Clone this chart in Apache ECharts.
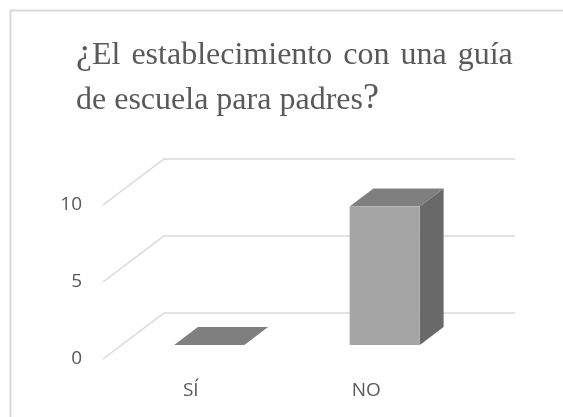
<!DOCTYPE html>
<html><head><meta charset="utf-8">
<style>html,body{margin:0;padding:0;background:#fff}#c{width:563px;height:417px}</style>
<script src="https://cdn.jsdelivr.net/npm/echarts@6/dist/echarts.min.js"></script></head>
<body><div id="c"></div>
<script>
const categories = ['SÍ', 'NO'];
const values = [0, 9];
const gridValues = [0, 5, 10];
const titleLine1 = '{q|¿}{t|El}{s| }{t|establecimiento}{s| }{t|con}{s| }{t|una}{s| }{t|guía}';
const titleLine2 = '{t|de}{u| }{t|escuela}{u| }{t|para}{u| }{t|padres}{q|?}';

const DEPTH_X = 61, DEPTH_Y = -46;      // full floor depth
const NEAR = 0.303, FAR = 0.693;        // bar's position within the depth
const chart = echarts.init(document.getElementById('c'), null, {renderer: 'canvas'});
const ink = '#595959';
const richTitle = {
  t: {fontFamily: 'Liberation Serif', fontSize: 32, fontWeight: 'normal', color: ink, verticalAlign: 'bottom'},
  s: {fontFamily: 'Liberation Serif', fontSize: 44, fontWeight: 'normal', color: ink, verticalAlign: 'bottom'},
  u: {fontFamily: 'Liberation Serif', fontSize: 32, fontWeight: 'normal', color: ink, verticalAlign: 'bottom'},
  q: {fontFamily: 'Liberation Serif', fontSize: 36, fontWeight: 'normal', color: ink, verticalAlign: 'bottom'}
};
chart.setOption({
  animation: false,
  backgroundColor: '#fff',
  graphic: [{type: 'rect', silent: true, z: -1,
    shape: {x: 10.5, y: 10.5, width: 640, height: 500},
    style: {fill: 'none', stroke: '#d9d9d9', lineWidth: 2}}],
  title: [
    {left: 76, top: 28, padding: 0, text: titleLine1, textStyle: {fontWeight: 'normal', rich: richTitle}},
    {left: 76, top: 81, padding: 0, text: titleLine2, textStyle: {fontWeight: 'normal', rich: richTitle}}
  ],
  grid: {left: 103, right: 109, top: 205, bottom: 58, containLabel: false},
  xAxis: {type: 'category', data: categories,
    axisLine: {show: false}, axisTick: {show: false}, splitLine: {show: false},
    axisLabel: {color: ink, fontFamily: 'Open Sans', fontSize: 19, margin: 22}},
  yAxis: {type: 'value', min: 0, max: 10, interval: 5,
    axisLine: {show: false}, axisTick: {show: false}, splitLine: {show: false},
    axisLabel: {color: ink, fontFamily: 'Open Sans', fontSize: 19, margin: 21}},
  series: [
    {type: 'custom', z: 1, data: gridValues.map(v => [0, v]),
      encode: {x: 0, y: 1},
      renderItem(params, api) {
        const cs = params.coordSys;
        const y = api.coord([0, api.value(1)])[1];
        return {type: 'polyline', silent: true,
          shape: {points: [[cs.x, y], [cs.x + DEPTH_X, y + DEPTH_Y], [cs.x + cs.width + DEPTH_X, y + DEPTH_Y]]},
          style: {stroke: '#d9d9d9', lineWidth: 1.5, fill: 'none'}};
      }},
    {type: 'custom', z: 2, data: values.map((v, i) => [i, v]),
      encode: {x: 0, y: 1},
      renderItem(params, api) {
        const top = api.coord([api.value(0), api.value(1)]);
        const base = api.coord([api.value(0), 0]);
        const w = api.size([1, 0])[0] * 0.4;
        const nx = DEPTH_X * NEAR, ny = DEPTH_Y * NEAR;
        const fx = DEPTH_X * FAR, fy = DEPTH_Y * FAR;
        const l = top[0] - w / 2 + nx, r = top[0] + w / 2 + nx;
        const t = top[1] + ny, b = base[1] + ny;
        const dx = fx - nx, dy = fy - ny;
        const children = [
          {type: 'polygon', shape: {points: [[l, t], [r, t], [r + dx, t + dy], [l + dx, t + dy]]},
            style: {fill: '#7f7f7f'}}
        ];
        if (b - t > 0.5) {
          children.push(
            {type: 'polygon', shape: {points: [[r, t], [r + dx, t + dy], [r + dx, b + dy], [r, b]]},
              style: {fill: '#696969'}},
            {type: 'rect', shape: {x: l, y: t, width: r - l, height: b - t},
              style: {fill: '#a5a5a5'}}
          );
        }
        return {type: 'group', children};
      }}
  ]
});
</script></body></html>
